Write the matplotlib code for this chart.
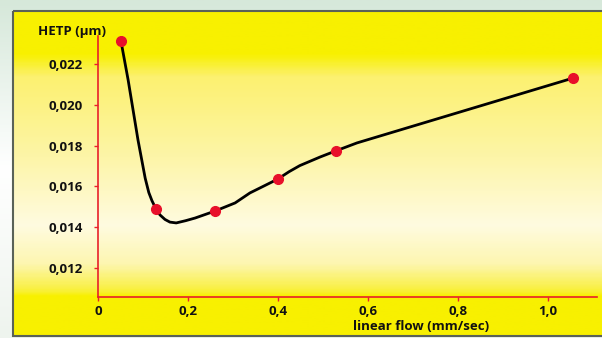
import numpy as np
import matplotlib
matplotlib.use("Agg")
from matplotlib import pyplot as plt
from matplotlib.colors import LinearSegmentedColormap
from matplotlib.patches import Rectangle

# measured points
flow = [0.051, 0.128, 0.260, 0.400, 0.529, 1.057]
hetp = [0.02313, 0.01489, 0.01479, 0.01636, 0.01774, 0.02131]

# fitted curve
curve_x = [0.051, 0.067, 0.089, 0.105, 0.113, 0.120, 0.129, 0.138, 0.149, 0.160,
           0.174, 0.195, 0.216, 0.260, 0.305, 0.338, 0.370, 0.400, 0.425, 0.449,
           0.494, 0.529, 0.576, 1.057]
curve_y = [0.02313, 0.02122, 0.01827, 0.01640, 0.01570, 0.01530, 0.01489, 0.01460,
           0.01438, 0.01425, 0.01421, 0.01432, 0.01445, 0.01479, 0.01519, 0.01568,
           0.01603, 0.01636, 0.01672, 0.01702, 0.01744, 0.01774, 0.01813, 0.02131]

x_ticks = [0, 0.2, 0.4, 0.6, 0.8, 1.0]
x_labels = ["0", "0,2", "0,4", "0,6", "0,8", "1,0"]
y_ticks = [0.012, 0.014, 0.016, 0.018, 0.020, 0.022]
y_labels = ["0,012", "0,014", "0,016", "0,018", "0,020", "0,022"]

plt.rcParams["font.family"] = ["Open Sans", "DejaVu Sans"]
plt.rcParams["font.weight"] = "bold"

W, H = 602, 338
fig = plt.figure(figsize=(W / 100, H / 100), dpi=100)

# outer background
bg = fig.add_axes([0, 0, 1, 1])
bg.set_axis_off()
outer = LinearSegmentedColormap.from_list(
    "outer", [(0, "#d6e8da"), (0.5, "#ffffff"), (1, "#eef4ee")])
bg.imshow(np.linspace(0, 1, 200).reshape(-1, 1), cmap=outer, aspect="auto",
          extent=[0, W, H, 0])

# yellow panel
panel = LinearSegmentedColormap.from_list(
    "panel", [(0, "#f8f000"), (0.13, "#f8f000"), (0.2, "#fcf170"),
              (0.45, "#fdf5a8"), (0.66, "#fffbe0"), (0.78, "#fdf6b0"),
              (0.86, "#f9f040"), (0.88, "#f8f000"), (1, "#f8f000")])
bg.imshow(np.linspace(0, 1, 300).reshape(-1, 1), cmap=panel, aspect="auto",
          extent=[13, W, 336, 11])
bg.add_patch(Rectangle((13, 11), W, 325, fill=False, ec="#5a6258", lw=1.5))
bg.set_xlim(0, W)
bg.set_ylim(H, 0)

ax = fig.add_axes([98 / W, 1 - 297 / H, (597 - 98) / W, (297 - 36) / H])
ax.patch.set_alpha(0)
ax.plot(curve_x, curve_y, color="black", lw=2, solid_joinstyle="round", zorder=2)
ax.plot(flow, hetp, "o", color="#e8102a", ms=7, zorder=3)

ax.set_xlim(0, 1.110)
ax.set_ylim(0.01058, 0.02337)
for s in ["top", "right"]:
    ax.spines[s].set_visible(False)
for s in ["left", "bottom"]:
    ax.spines[s].set_color("#e8202a")
    ax.spines[s].set_linewidth(1.2)
ax.set_xticks(x_ticks)
ax.set_xticklabels(x_labels)
ax.set_yticks(y_ticks)
ax.set_yticklabels(y_labels)
ax.tick_params(colors="#e8202a", length=3, width=1, labelcolor="#111111", labelsize=9.5)
ax.tick_params(axis="x", pad=3)
ax.tick_params(axis="y", pad=8)

fig.text(72 / W, 1 - 31 / H, "HETP (µm)", ha="center", va="center",
         fontsize=9.5, fontweight="bold", color="#111111")
fig.text(421 / W, 1 - 326 / H, "linear flow (mm/sec)", ha="center", va="center",
         fontsize=9.5, fontweight="bold", color="#111111")

fig.savefig("out.png", dpi=100)
